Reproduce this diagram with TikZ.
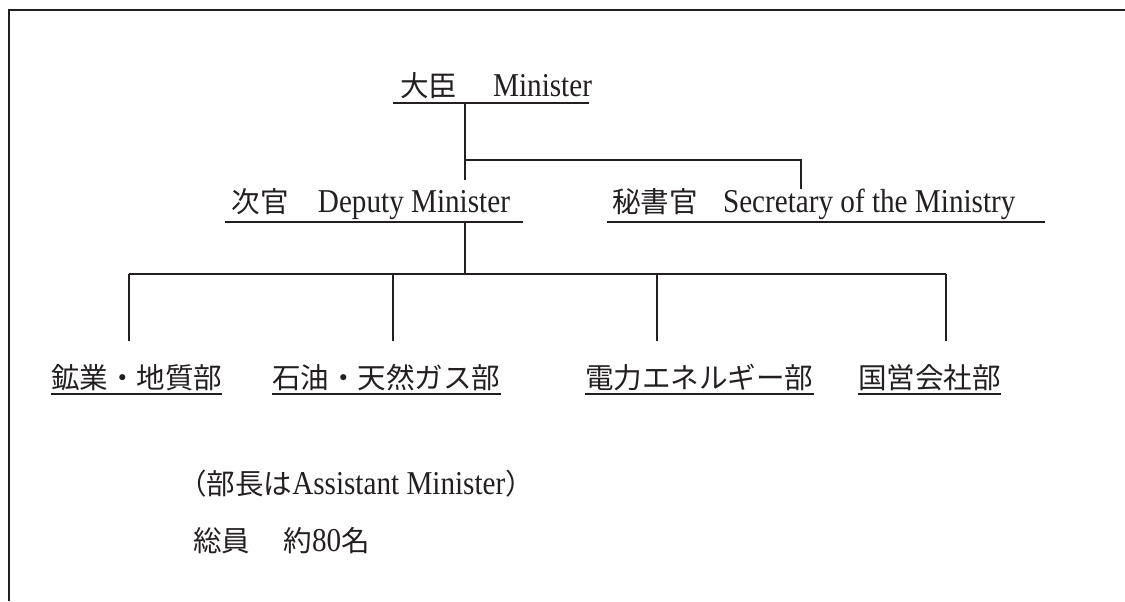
\documentclass[tikz,border=0pt]{standalone}
\usepackage{fontspec}
\setmainfont{Liberation Serif}[FakeStretch=0.875]
\newfontfamily\jp{Noto Sans CJK JP}[Scale=0.857]
\definecolor{ink}{HTML}{231F20}
\begin{document}
\begin{tikzpicture}[x=0.75pt,y=-0.75pt,
  font=\fontsize{25}{30}\selectfont,
  every node/.style={inner sep=0pt, outer sep=0pt, text=ink},
  lbl/.style={anchor=base west},
  conn/.style={draw=ink, line width=1.3pt},
  frameline/.style={draw=ink, line width=2.1pt}]
\useasboundingbox (0,0) rectangle (1125,601);
\draw[frameline] (1125,10) -- (9,10) -- (9,601);

% titles
\node[lbl] (min) at (400,96) {{\jp 大臣}\hspace{27pt}Minister};
\node[lbl] (dep) at (231.5,212) {{\jp 次官}\hspace{22pt}Deputy Minister};
\node[lbl] (sec) at (612,212) {{\jp 秘書官}\hspace{19pt}Secretary of the Ministry};

% underlines of titles
\coordinate (minL) at (393,103); \coordinate (minR) at (589,103); \coordinate (minC) at (465,103);
\coordinate (depL) at (225,222); \coordinate (depR) at (523,222); \coordinate (depC) at (465,222);
\coordinate (secL) at (607,222); \coordinate (secR) at (1045,222);
\draw[conn] (minL) -- (minR);
\draw[conn] (depL) -- (depR);
\draw[conn] (secL) -- (secR);

% connectors
\coordinate (j1) at (465,160);
\coordinate (depTop) at (465,180);
\coordinate (secTop) at (801,189);
\draw[conn] (minC) -- (depTop);
\draw[conn] (j1) -| (secTop);
\coordinate (bar) at (465,274);
\draw[conn] (depC) -- (bar);

\coordinate (b1) at (129,274); \coordinate (v1) at (129,341);
\coordinate (b2) at (393,274); \coordinate (v2) at (393,341);
\coordinate (b3) at (657,274); \coordinate (v3) at (657,341);
\coordinate (b4) at (946,274); \coordinate (v4) at (946,341);
\draw[conn] (b1) -- (b4);
\foreach \i in {1,2,3,4} { \draw[conn] (b\i) -- (v\i); }

% departments
\node[lbl] (d1) at (51,388) {\jp 鉱業・地質部};
\node[lbl] (d2) at (272,388) {\jp 石油・天然ガス部};
\node[lbl] (d3) at (585,388) {\jp 電力エネルギー部};
\node[lbl] (d4) at (858,388) {\jp 国営会社部};
\foreach \n in {d1,d2,d3,d4} {
  \draw[conn] ([yshift=-4.5pt]\n.base west) -- ([yshift=-4.5pt]\n.base east);
}

% notes
\node[lbl] (note) at (178,494) {{\jp （部長は}Assistant Minister{\jp ）}};
\node[lbl] (tot) at (193,551) {{\jp 総員}\hspace{25pt}{\jp 約}80{\jp 名}};
\end{tikzpicture}
\end{document}
